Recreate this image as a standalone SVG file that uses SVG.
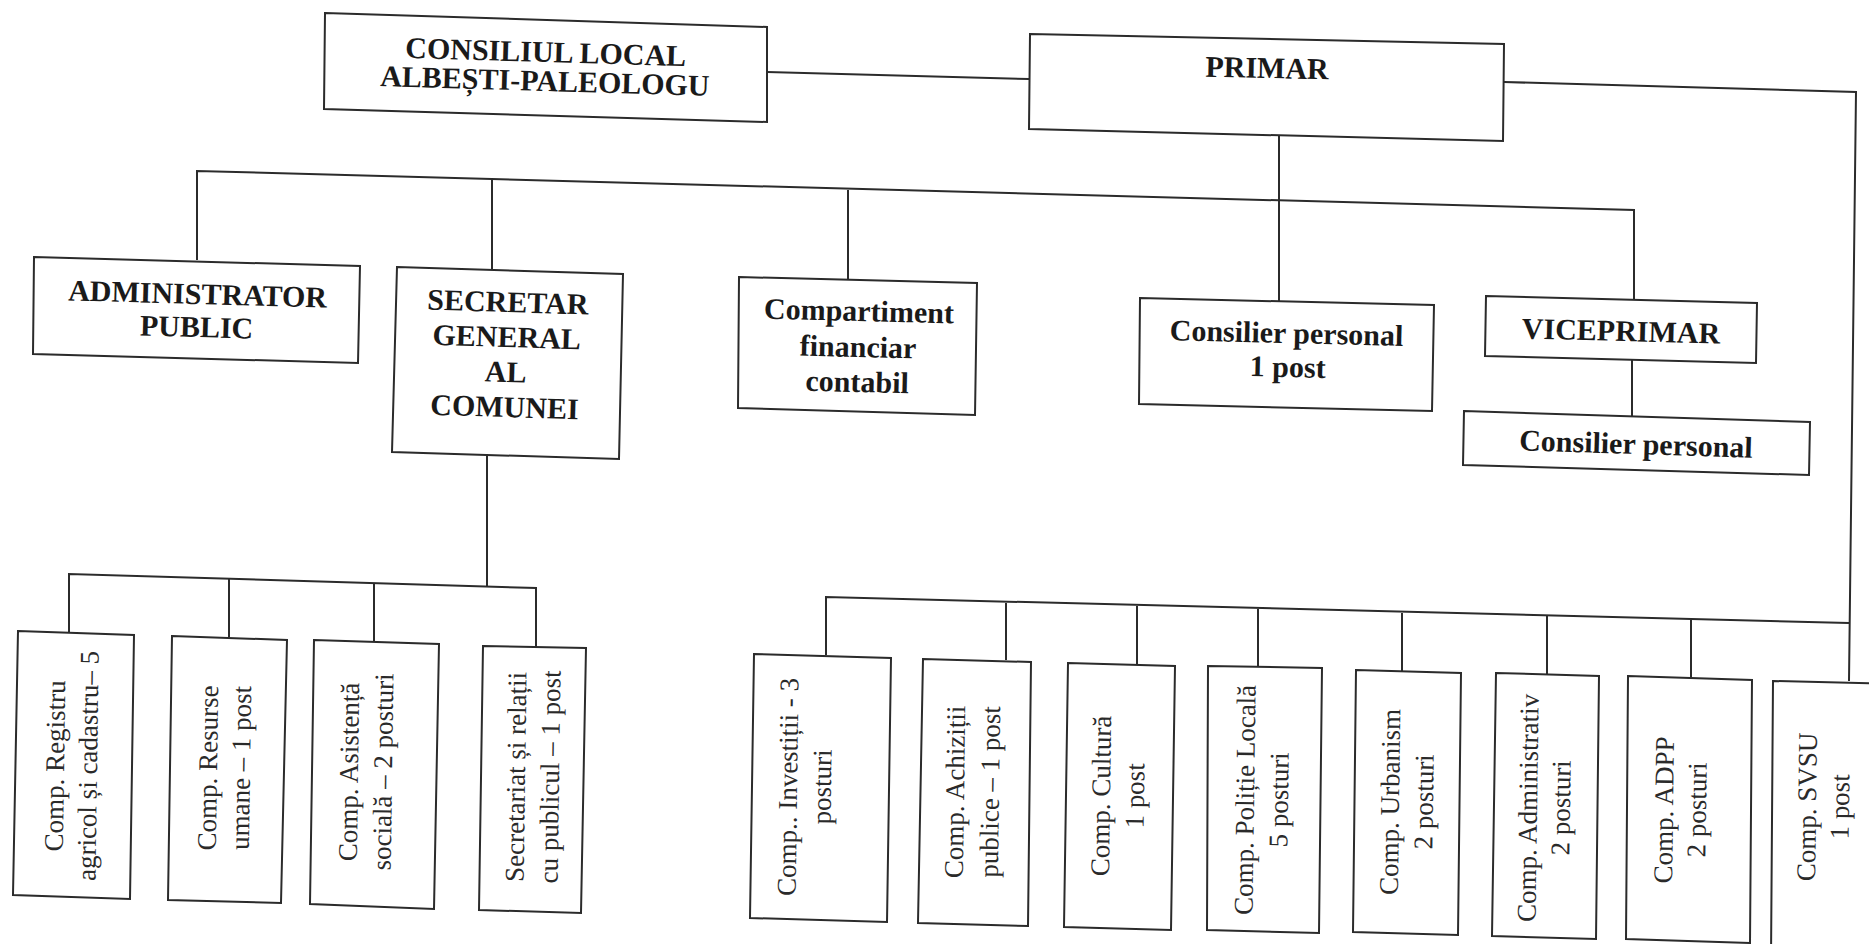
<svg xmlns="http://www.w3.org/2000/svg" width="1869" height="944" viewBox="0 0 1869 944">
<style>
.box{fill:#fff;stroke:#2b2b2b;stroke-width:2;stroke-linejoin:miter}
.ln{fill:none;stroke:#2b2b2b;stroke-width:2}
.h{font-family:"Liberation Serif","Times New Roman",serif;font-weight:bold;font-size:30px;fill:#1a1a1a;text-anchor:middle}
.v{font-family:"Liberation Serif","Times New Roman",serif;font-size:27px;fill:#2a2a2a;text-anchor:middle}
</style>
<rect x="0" y="0" width="1869" height="944" fill="#fff"/>
<g id="connectors">
<polyline class="ln" points="767,72 1029,79"/>
<polyline class="ln" points="1504,82 1856,92 1849,681"/>
<polyline class="ln" points="1279,135 1279,302"/>
<polyline class="ln" points="197,260 197,171 1634,210 1634,299"/>
<polyline class="ln" points="492,179 492,270"/>
<polyline class="ln" points="848,190 848,280"/>
<polyline class="ln" points="1632,360 1632,416"/>
<polyline class="ln" points="487,456 487,586"/>
<polyline class="ln" points="69,633 69,574 536,588 536,647"/>
<polyline class="ln" points="229,579 229,637"/>
<polyline class="ln" points="374,583 374,642"/>
<polyline class="ln" points="826,655 826,597 1849,623"/>
<polyline class="ln" points="1006,603 1006,660"/>
<polyline class="ln" points="1137,606 1137,664"/>
<polyline class="ln" points="1258,609 1258,667"/>
<polyline class="ln" points="1402,613 1402,671"/>
<polyline class="ln" points="1547,616 1547,674"/>
<polyline class="ln" points="1691,620 1691,677"/>
</g>
<g id="consiliul">
<polygon class="box" points="325,13 767,27 767,122 324,109"/>
<g transform="rotate(1.7 545 77)">
<text class="h" x="545" y="62">CONSILIUL LOCAL</text>
<text class="h" x="545" y="91">ALBEȘTI-PALEOLOGU</text>
</g>
</g>
<g id="primar">
<polygon class="box" points="1030,34 1504,44 1503,141 1029,129"/>
<text class="h" x="1267" y="78" transform="rotate(1.2 1267 70)">PRIMAR</text>
</g>
<g id="administrator">
<polygon class="box" points="34,257 360,266 358,363 33,354"/>
<g transform="rotate(1.6 197 315)">
<text class="h" x="197" y="304">ADMINISTRATOR</text>
<text class="h" x="197" y="337">PUBLIC</text>
</g>
</g>
<g id="secretar">
<polygon class="box" points="397,267 623,274 619,459 392,452"/>
<g transform="rotate(1.8 506 360)">
<text class="h" x="506" y="312">SECRETAR</text>
<text class="h" x="506" y="347">GENERAL</text>
<text class="h" x="506" y="382">AL</text>
<text class="h" x="506" y="417">COMUNEI</text>
</g>
</g>
<g id="compartiment">
<polygon class="box" points="739,277 977,283 975,415 738,408"/>
<g transform="rotate(1.4 858 350)">
<text class="h" x="858" y="321">Compartiment</text>
<text class="h" x="858" y="357">financiar</text>
<text class="h" x="858" y="392">contabil</text>
</g>
</g>
<g id="consilier1">
<polygon class="box" points="1140,298 1434,305 1432,411 1139,404"/>
<g transform="rotate(1.4 1286 355)">
<text class="h" x="1286" y="343">Consilier personal</text>
<text class="h" x="1288" y="377">1 post</text>
</g>
</g>
<g id="viceprimar">
<polygon class="box" points="1486,296 1757,303 1756,363 1485,356"/>
<text class="h" x="1621" y="341" transform="rotate(1.5 1621 330)">VICEPRIMAR</text>
</g>
<g id="consilier2">
<polygon class="box" points="1464,411 1810,422 1809,475 1463,465"/>
<text class="h" x="1636" y="454" transform="rotate(1.8 1636 443)">Consilier personal</text>
</g>
<g id="registru">
<polygon class="box" points="18,631 134,635 130,899 13,895"/>
<text class="v" transform="translate(64 766) rotate(-89.2)">Comp. Registru</text>
<text class="v" transform="translate(97 766) rotate(-89.2)">agricol și cadastru– 5</text>
</g>
<g id="resurse">
<polygon class="box" points="172,636 287,640 281,903 168,900"/>
<text class="v" transform="translate(217 768) rotate(-89.2)">Comp. Resurse</text>
<text class="v" transform="translate(250 768) rotate(-89.2)">umane – 1 post</text>
</g>
<g id="asistenta">
<polygon class="box" points="314,640 439,644 434,909 310,904"/>
<text class="v" transform="translate(358 772) rotate(-89.2)">Comp. Asistență</text>
<text class="v" transform="translate(392 772) rotate(-89.2)">socială – 2 posturi</text>
</g>
<g id="secretariat">
<polygon class="box" points="483,646 586,648 581,913 479,910"/>
<text class="v" transform="translate(525 777) rotate(-89.2)">Secretariat și relații</text>
<text class="v" transform="translate(559 777) rotate(-89.2)">cu publicul – 1 post</text>
</g>
<g id="investitii">
<polygon class="box" points="754,654 891,658 887,922 750,918"/>
<text class="v" transform="translate(797 787) rotate(-89.2)">Comp.. Investiții - 3</text>
<text class="v" transform="translate(831 787) rotate(-89.2)">posturi</text>
</g>
<g id="achizitii">
<polygon class="box" points="923,659 1031,662 1028,926 918,923"/>
<text class="v" transform="translate(964 792) rotate(-89.2)">Comp. Achiziții</text>
<text class="v" transform="translate(999 792) rotate(-89.2)">publice – 1 post</text>
</g>
<g id="cultura">
<polygon class="box" points="1068,663 1175,666 1171,930 1064,927"/>
<text class="v" transform="translate(1110 796) rotate(-89.2)">Comp. Cultură</text>
<text class="v" transform="translate(1144 796) rotate(-89.2)">1 post</text>
</g>
<g id="politie">
<polygon class="box" points="1208,666 1322,668 1319,933 1207,930"/>
<text class="v" transform="translate(1254 800) rotate(-89.2)">Comp. Poliție Locală</text>
<text class="v" transform="translate(1288 800) rotate(-89.2)">5 posturi</text>
</g>
<g id="urbanism">
<polygon class="box" points="1356,670 1461,673 1458,935 1353,932"/>
<text class="v" transform="translate(1399 802) rotate(-89.2)">Comp. Urbanism</text>
<text class="v" transform="translate(1433 802) rotate(-89.2)">2 posturi</text>
</g>
<g id="administrativ">
<polygon class="box" points="1496,673 1599,676 1596,939 1492,936"/>
<text class="v" transform="translate(1537 808) rotate(-89.2)">Comp. Administrativ</text>
<text class="v" transform="translate(1570 808) rotate(-89.2)">2 posturi</text>
</g>
<g id="adpp">
<polygon class="box" points="1628,676 1752,680 1750,943 1626,939"/>
<text class="v" transform="translate(1673 810) rotate(-89.2)">Comp. ADPP</text>
<text class="v" transform="translate(1706 810) rotate(-89.2)">2 posturi</text>
</g>
<g id="svsu">
<polygon class="box" points="1773,681 1895,684 1895,960 1771,960"/>
<text class="v" transform="translate(1816 807) rotate(-89.2)">Comp. SVSU</text>
<text class="v" transform="translate(1849 807) rotate(-89.2)">1 post</text>
</g>
</svg>
